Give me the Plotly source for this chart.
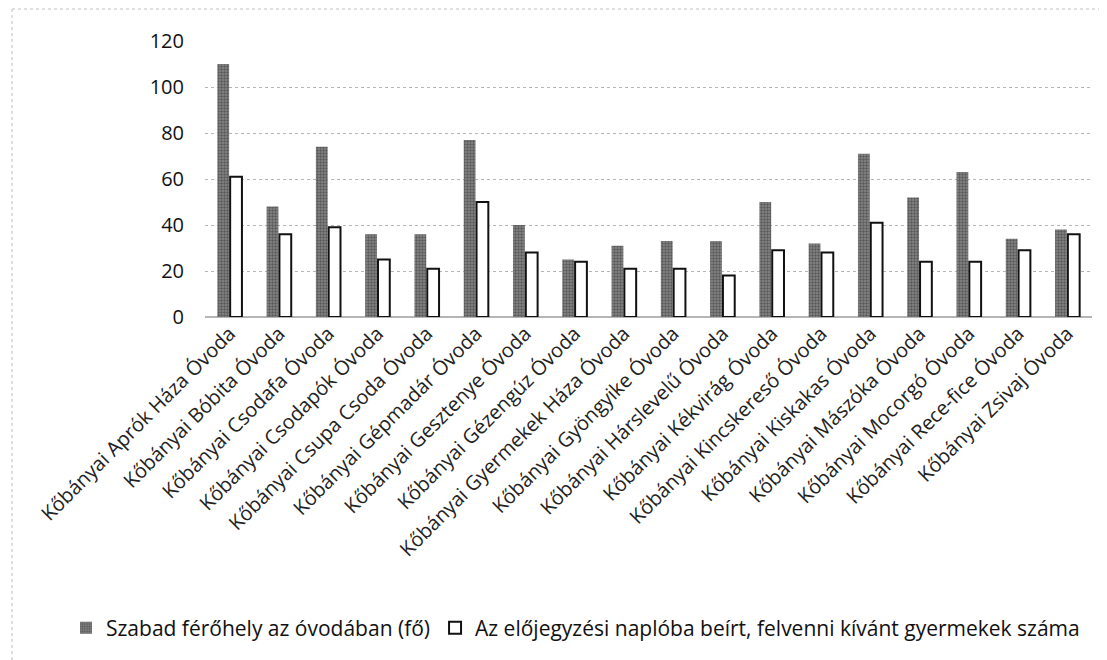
import plotly.graph_objects as go

categories = [
    "Kőbányai Aprók Háza Óvoda", "Kőbányai Bóbita Óvoda", "Kőbányai Csodafa Óvoda",
    "Kőbányai Csodapók Óvoda", "Kőbányai Csupa Csoda Óvoda", "Kőbányai Gépmadár Óvoda",
    "Kőbányai Gesztenye Óvoda", "Kőbányai Gézengúz Óvoda", "Kőbányai Gyermekek Háza Óvoda",
    "Kőbányai Gyöngyike Óvoda", "Kőbányai Hárslevelű Óvoda", "Kőbányai Kékvirág Óvoda",
    "Kőbányai Kincskereső Óvoda", "Kőbányai Kiskakas Óvoda", "Kőbányai Mászóka Óvoda",
    "Kőbányai Mocorgó Óvoda", "Kőbányai Rece-fice Óvoda", "Kőbányai Zsivaj Óvoda",
]
szabad = [110, 48, 74, 36, 36, 77, 40, 25, 31, 33, 33, 50, 32, 71, 52, 63, 34, 38]
elojegyzes = [61, 36, 39, 25, 21, 50, 28, 24, 21, 21, 18, 29, 28, 41, 24, 24, 29, 36]
series_names = ["Szabad férőhely az óvodában (fő)",
                "Az előjegyzési naplóba beírt, felvenni kívánt gyermekek száma"]
y_ticks = [0, 20, 40, 60, 80, 100, 120]

FONT = "Open Sans"

# page body has an 8px margin, so the figure is sized to fill the rest of the window
W, H = 1099, 652
ML, MT, MR, MB = 197, 33, 15, 343
PW, PH = W - ML - MR, H - MT - MB

fig = go.Figure()
fig.add_trace(go.Bar(
    x=categories, y=szabad, name=series_names[0],
    marker=dict(color="#767676", line=dict(width=0),
                pattern=dict(shape=".", fgcolor="#2a2a2a", bgcolor="#888888", size=3, solidity=0.5)),
))
fig.add_trace(go.Bar(
    x=categories, y=elojegyzes, name=series_names[1],
    marker=dict(color="#ffffff", line=dict(color="#111111", width=2)),
))

fig.update_layout(
    width=W, height=H,
    paper_bgcolor="#ffffff", plot_bgcolor="#ffffff",
    margin=dict(l=ML, r=MR, t=MT, b=MB, autoexpand=False),
    barmode="group", bargap=0.48, bargroupgap=0.08,
    font=dict(family=FONT, color="#111111", size=18),
    legend=dict(orientation="h", x=(58 - ML) / PW, xanchor="left",
                y=(PH - (620 - MT)) / PH, yanchor="middle",
                font=dict(family=FONT, size=21, color="#111111"),
                itemwidth=30, tracegroupgap=0, traceorder="normal"),
    showlegend=True,
)
fig.update_xaxes(
    tickangle=-45, showgrid=False, showline=False, ticks="", automargin=False,
    tickfont=dict(family=FONT, size=20, color="#222222"),
)
fig.update_yaxes(
    range=[0, 120], tickvals=y_ticks, showgrid=True, gridcolor="#b5b5b5",
    griddash="dot", gridwidth=1, zeroline=True, zerolinecolor="#b5b5b5",
    showline=False, ticks="", ticklabelstandoff=20, automargin=False,
    tickfont=dict(family=FONT, size=20, color="#111111"),
)
# faint dotted frame of the chart area (top and left edges visible in the scan)
fig.add_shape(type="line", xref="paper", yref="paper",
              x0=(4 - ML) / PW, x1=(4 - ML) / PW, y0=(PH - (H - MT)) / PH, y1=(PH + MT - 1) / PH,
              line=dict(color="#c0c0c0", width=1, dash="dot"))
fig.add_shape(type="line", xref="paper", yref="paper",
              x0=(4 - ML) / PW, x1=1.01, y0=(PH + MT - 1) / PH, y1=(PH + MT - 1) / PH,
              line=dict(color="#c0c0c0", width=1, dash="dot"))

fig.write_html("out.html")
